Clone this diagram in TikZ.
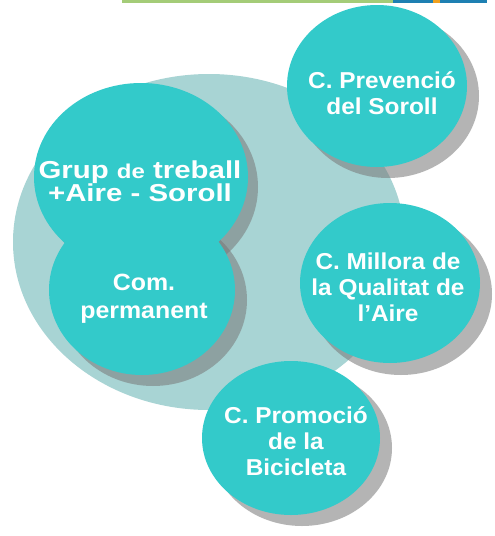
\documentclass[tikz,border=0pt]{standalone}
\usepackage{fontspec}
\setmainfont{Liberation Sans}
\newfontfamily\wfont[FakeStretch=1.06]{Liberation Sans}
\newfontfamily\gfont[FakeStretch=1.2]{Liberation Sans}
\usetikzlibrary{shapes.geometric}
\definecolor{teal1}{RGB}{51,202,202}
\definecolor{pale}{RGB}{168,212,212}
\definecolor{shad}{RGB}{120,120,120}
\definecolor{barg}{RGB}{164,204,120}
\definecolor{barb}{RGB}{30,128,178}
\definecolor{baro}{RGB}{240,160,30}
\begin{document}
\begin{tikzpicture}[x=1pt,y=-1pt,
  bub/.style={fill=teal1},
  shd/.style={fill=shad, fill opacity=0.55},
  lbl/.style={text=white, align=center, inner sep=0pt,
    font=\wfont\bfseries\fontsize{23}{26}\selectfont}]
\useasboundingbox (0,0) rectangle (495,536);
\fill[white] (0,0) rectangle (495,536);
% top bar
\fill[barg] (122,0) rectangle (393,3);
\fill[barb] (393,0) rectangle (487,3);
\fill[baro] (433,0) rectangle (440,3);
% pale background circle
\fill[pale] (209,242) ellipse [x radius=196pt, y radius=168pt];
% shadows
\fill[shd] (388,96) ellipse [x radius=91pt, y radius=82pt];
\fill[shd] (151,187) ellipse [x radius=107pt, y radius=95pt];
\fill[shd] (153,300) ellipse [x radius=94pt, y radius=86pt];
\fill[shd] (401,294) ellipse [x radius=91pt, y radius=81pt];
\fill[shd] (302,448) ellipse [x radius=90pt, y radius=78pt];
% bubbles
\fill[bub] (377,86) ellipse [x radius=90pt, y radius=81pt];
\fill[bub] (141,177) ellipse [x radius=107pt, y radius=94pt];
\fill[bub] (142,290) ellipse [x radius=93pt, y radius=85pt];
\fill[bub] (390,283) ellipse [x radius=90pt, y radius=80pt];
\fill[bub] (291,438) ellipse [x radius=89pt, y radius=77pt];
% labels
\node[lbl] (prev) at (382,93) {C. Prevenció\\del Soroll};
\node[lbl, font=\gfont\bfseries\fontsize{24.5}{23}\selectfont] (grup) at (140,181)
  {Grup {\fontsize{20}{23}\selectfont de} treball\\+Aire - Soroll};
\node[lbl, font=\wfont\bfseries\fontsize{23.5}{28}\selectfont] (com) at (144,299) {Com.\\permanent};
\node[lbl] (qual) at (388,287) {C. Millora de\\la Qualitat de\\l’Aire};
\node[lbl] (prom) at (296,441) {C. Promoció\\de la\\Bicicleta};
\end{tikzpicture}
\end{document}
